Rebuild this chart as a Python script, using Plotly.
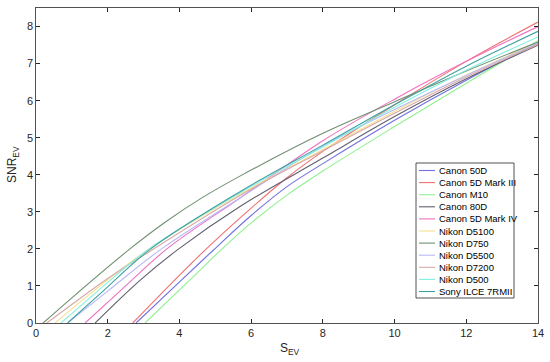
import plotly.graph_objects as go

cameras = ["Canon 50D", "Canon 5D Mark III", "Canon M10", "Canon 80D", "Canon 5D Mark IV",
           "Nikon D5100", "Nikon D750", "Nikon D5500", "Nikon D7200", "Nikon D500", "Sony ILCE 7RMII"]

canon_50d_x = [2.79, 4.07, 4.95, 6.0, 7.0, 8, 10, 12, 14]
canon_50d_y = [0, 1.17, 1.97, 2.9, 3.68, 4.3, 5.47, 6.55, 7.55]
canon_5d3_x = [2.7, 3.88, 4.75, 6.0, 7.0, 8, 10, 12, 14]
canon_5d3_y = [0, 1.17, 2.0, 3.1, 3.92, 4.63, 5.89, 7.06, 8.12]
canon_m10_x = [3.04, 4.3, 5.19, 6.0, 7.0, 8, 10, 12, 14]
canon_m10_y = [0, 1.17, 2.0, 2.7, 3.45, 4.1, 5.3, 6.47, 7.62]
canon_80d_x = [1.65, 2.9, 3.98, 5.7, 8, 10, 12, 14]
canon_80d_y = [0, 1.15, 2.0, 3.15, 4.45, 5.57, 6.59, 7.5]
canon_5d4_x = [1.37, 2.5, 3.65, 5.7, 8, 10, 12, 14]
canon_5d4_y = [0, 1.0, 2.0, 3.38, 4.92, 6.04, 7.06, 8.0]
nikon_d5100_x = [0.53, 1.5, 3.15, 5.7, 8, 10, 12, 14]
nikon_d5100_y = [0, 0.78, 2.0, 3.48, 4.68, 5.71, 6.69, 7.58]
nikon_d750_x = [0.2, 1.0, 2.62, 3.6, 4.58, 5.7, 8, 10, 12, 14]
nikon_d750_y = [0, 0.68, 2.0, 2.72, 3.35, 3.97, 5.12, 5.97, 6.8, 7.58]
nikon_d5500_x = [0.88, 2.0, 3.5, 5.7, 8, 10, 12, 14]
nikon_d5500_y = [0, 0.86, 2.0, 3.38, 4.78, 5.76, 6.68, 7.55]
nikon_d7200_x = [0.3, 1.0, 2.0, 3.2, 5.7, 8, 10, 12, 14]
nikon_d7200_y = [0, 0.5, 1.2, 1.95, 3.45, 4.65, 5.66, 6.64, 7.52]
nikon_d500_x = [0.7, 1.6, 3.15, 5.7, 8, 10, 12, 14]
nikon_d500_y = [0, 0.76, 2.0, 3.52, 4.75, 5.82, 6.82, 7.72]
sony_x = [0.88, 1.8, 3.2, 5.7, 8, 10, 12, 14]
sony_y = [0, 0.8, 2.0, 3.55, 4.8, 5.89, 6.93, 7.87]

xs = [canon_50d_x, canon_5d3_x, canon_m10_x, canon_80d_x, canon_5d4_x, nikon_d5100_x,
      nikon_d750_x, nikon_d5500_x, nikon_d7200_x, nikon_d500_x, sony_x]
ys = [canon_50d_y, canon_5d3_y, canon_m10_y, canon_80d_y, canon_5d4_y, nikon_d5100_y,
      nikon_d750_y, nikon_d5500_y, nikon_d7200_y, nikon_d500_y, sony_y]

colors = ["#7070e0", "#f07070", "#90f090", "#606070", "#f070c0", "#f8e090",
          "#709070", "#b8b8f8", "#d8a8a8", "#80f0e0", "#40a0a0"]

x_ticks = [0, 2, 4, 6, 8, 10, 12, 14]
y_ticks = [0, 1, 2, 3, 4, 5, 6, 7, 8]

W, H = 550, 362
ML, MR, MT, MB = 36, 12, 8, 39
PW, PH = W - ML - MR, H - MT - MB


def px(xpix):
    return (xpix - ML) / PW


def py(ypix):
    return 1 - (ypix - MT) / PH


FONT = "Liberation Sans, Arial, sans-serif"
TXT = "#262626"

fig = go.Figure()
for name, x, y, c in zip(cameras, xs, ys, colors):
    fig.add_trace(go.Scatter(x=x, y=y, mode="lines", name=name, showlegend=False,
                             line=dict(color=c, width=1.1, shape="spline", smoothing=1.0)))

axis_common = dict(showgrid=False, zeroline=False, showline=True, mirror="ticks",
                   linecolor=TXT, linewidth=0.8, ticks="inside", ticklen=4,
                   tickcolor=TXT, automargin=False,
                   tickfont=dict(family=FONT, size=11, color=TXT))

fig.update_xaxes(range=[0, 14], tickvals=x_ticks, **axis_common)
fig.update_yaxes(range=[0, 8.5], tickvals=y_ticks, **axis_common)

shapes = []
annotations = []

# axis titles
annotations.append(dict(text="S<sub>EV</sub>", x=px(290), y=py(349), xref="paper", yref="paper",
                        xanchor="center", yanchor="middle", showarrow=False,
                        font=dict(family=FONT, size=12, color=TXT)))
annotations.append(dict(text="SNR<sub>EV</sub>", x=px(13), y=py(165), xref="paper", yref="paper",
                        xanchor="center", yanchor="middle", showarrow=False, textangle=-90,
                        font=dict(family=FONT, size=12, color=TXT)))

# legend box
shapes.append(dict(type="rect", xref="paper", yref="paper",
                   x0=px(416), x1=px(514), y0=py(298), y1=py(163),
                   line=dict(color=TXT, width=0.8), fillcolor="white", layer="above"))
for i, (name, c) in enumerate(zip(cameras, colors)):
    yy = 170.5 + 12.1 * i
    shapes.append(dict(type="line", xref="paper", yref="paper",
                       x0=px(419), x1=px(435), y0=py(yy), y1=py(yy),
                       line=dict(color=c, width=1.1), layer="above"))
    annotations.append(dict(text=name, x=px(437), y=py(yy), xref="paper", yref="paper",
                            xanchor="left", yanchor="middle", showarrow=False,
                            font=dict(family=FONT, size=9.5, color="#000000")))

fig.update_layout(
    width=W, height=H,
    margin=dict(l=ML, r=MR, t=MT, b=MB, autoexpand=False),
    paper_bgcolor="white", plot_bgcolor="white",
    showlegend=False,
    shapes=shapes, annotations=annotations,
)

fig.write_html("out.html",
               config={"displayModeBar": False, "staticPlot": True},
               post_script="document.body.style.margin='0';document.body.style.padding='0';"
                           "document.body.style.overflow='hidden';")
